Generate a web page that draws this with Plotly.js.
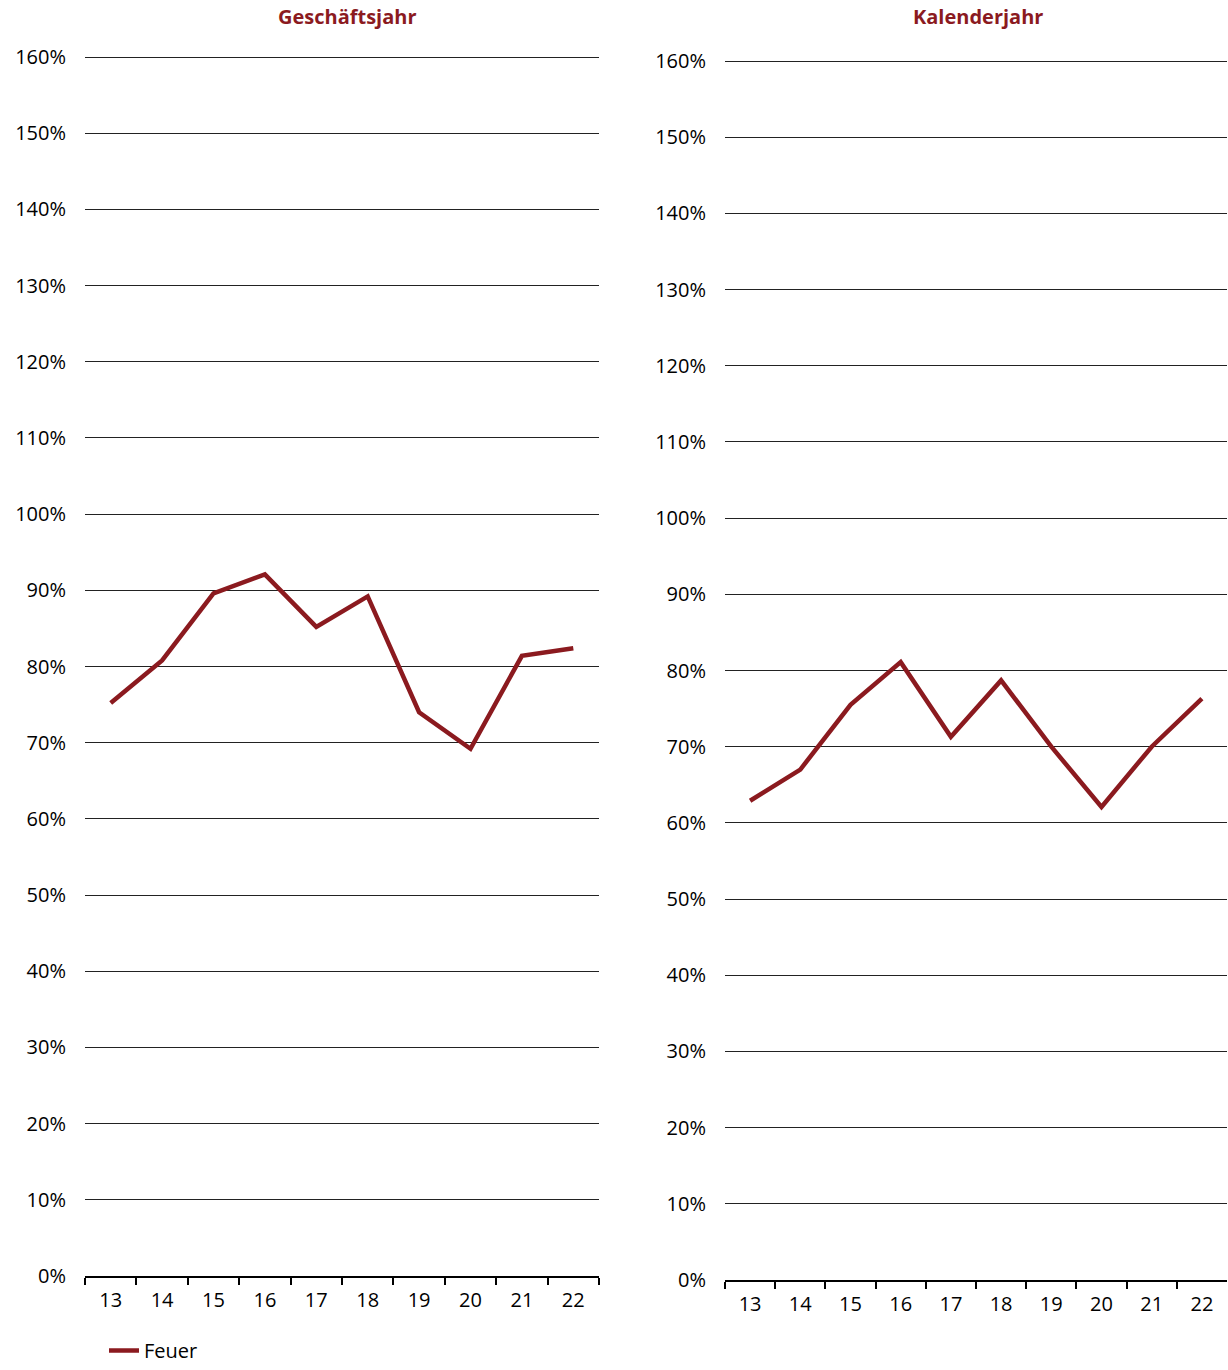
<!DOCTYPE html>
<html>
<head>
<meta charset="utf-8">
<script src="https://cdn.plot.ly/plotly-3.0.1.min.js"></script>
<style>html,body{margin:0;padding:0;background:#fff;}#chart{width:1228px;height:1370px;}</style>
</head>
<body>
<div id="chart"></div>
<script>
const years = ['13','14','15','16','17','18','19','20','21','22'];
const geschaeftsjahr = [75.2, 80.8, 89.6, 92.1, 85.2, 89.2, 74.0, 69.2, 81.4, 82.4];
const kalenderjahr = [62.9, 67.0, 75.5, 81.1, 71.3, 78.7, 70.0, 62.1, 70.0, 76.3];
const seriesName = 'Feuer';
const panelTitles = ['Geschäftsjahr', 'Kalenderjahr'];

const W = 1228, H = 1370;
const red = '#8B1A1F';
const fontFam = '"Open Sans", "DejaVu Sans", sans-serif';
const yMax = 160.5;

const traces = [
  {x: years, y: geschaeftsjahr, type: 'scatter', mode: 'lines', name: seriesName,
   line: {color: red, width: 4.5}, xaxis: 'x', yaxis: 'y', showlegend: true},
  {x: years, y: kalenderjahr, type: 'scatter', mode: 'lines', name: seriesName,
   line: {color: red, width: 4.5}, xaxis: 'x2', yaxis: 'y2', showlegend: false}
];

function xa(d0, d1, anchor) {
  return {domain: [d0 / W, d1 / W], anchor: anchor, type: 'category', range: [-0.5, 9.5],
    showgrid: false, zeroline: false, showline: true, linecolor: '#000', linewidth: 2,
    ticks: 'outside', tickson: 'boundaries', ticklen: 7, tickwidth: 2, tickcolor: '#000',
    ticklabelstandoff: 5, tickfont: {size: 20, color: '#000', family: fontFam}, fixedrange: true};
}
function ya(top160, bot, anchor) {
  const pxPer = (bot - top160) / 160;
  const top = bot - pxPer * yMax;
  return {domain: [(H - bot) / H, (H - top) / H], anchor: anchor, range: [0, yMax], dtick: 10,
    tick0: 0, ticksuffix: '%', showgrid: true, gridcolor: '#222', gridwidth: 1, zeroline: false,
    showline: false, ticks: '', ticklabelstandoff: 18,
    tickfont: {size: 20, color: '#000', family: fontFam}, fixedrange: true};
}

const layout = {
  width: W, height: H,
  margin: {l: 0, r: 0, t: 0, b: 0, autoexpand: false},
  paper_bgcolor: '#fff', plot_bgcolor: '#fff',
  font: {family: fontFam, color: '#000'},
  xaxis: xa(85, 599, 'y'),
  yaxis: ya(57, 1276, 'x'),
  xaxis2: xa(725, 1227, 'y2'),
  yaxis2: ya(61, 1280, 'x2'),
  showlegend: true,
  legend: {x: 104 / W, y: 0, xanchor: 'left', yanchor: 'bottom', orientation: 'h',
    font: {size: 20, color: '#000', family: fontFam}, bgcolor: 'rgba(0,0,0,0)'},
  annotations: [
    {text: '<b>' + panelTitles[0] + '</b>', x: 347 / W, y: (H - 17) / H, xref: 'paper', yref: 'paper',
     showarrow: false, xanchor: 'center', yanchor: 'middle', font: {size: 20, color: red, family: fontFam}},
    {text: '<b>' + panelTitles[1] + '</b>', x: 978 / W, y: (H - 17) / H, xref: 'paper', yref: 'paper',
     showarrow: false, xanchor: 'center', yanchor: 'middle', font: {size: 20, color: red, family: fontFam}}
  ]
};

Plotly.newPlot('chart', traces, layout, {displayModeBar: false, staticPlot: true});
</script>
</body>
</html>
